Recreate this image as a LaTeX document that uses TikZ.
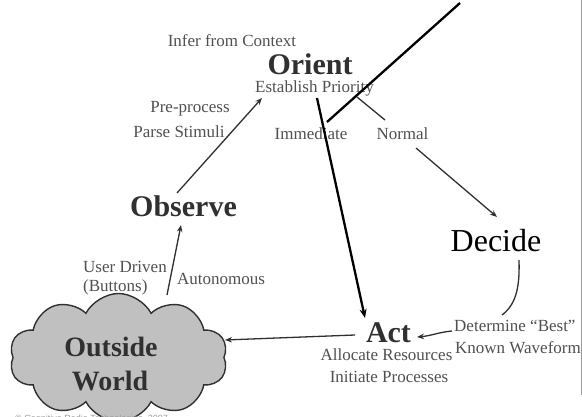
\documentclass[tikz,border=0pt]{standalone}
\usepackage{fontspec}
\setmainfont{Liberation Serif}
\newfontfamily\copyfont{Liberation Sans}
\usetikzlibrary{arrows.meta,shapes.symbols}
\definecolor{lbl}{HTML}{505050}
\definecolor{bigc}{HTML}{303030}
\definecolor{lnc}{HTML}{303030}
\definecolor{cloudfill}{HTML}{C0C0C0}
\tikzset{
  lab/.style={text=lbl,font=\fontsize{17}{20}\selectfont,inner sep=0pt,anchor=base},
  labw/.style={lab,anchor=base west},
  big/.style={text=bigc,font=\fontsize{30}{34}\selectfont\bfseries,inner sep=0pt,anchor=base},
  thinarrow/.style={draw=lnc,line width=1.3pt,-{Stealth[length=7pt,width=5.5pt]}},
  thinline/.style={draw=lnc,line width=1.3pt},
  thickarrow/.style={draw=black,line width=2.3pt,-{Stealth[length=9pt,width=7pt]}},
  thickline/.style={draw=black,line width=2.3pt},
}
\begin{document}
\begin{tikzpicture}[x=1pt,y=-1pt]
\useasboundingbox (0,0) rectangle (582,417);
% right border line
\draw[draw=gray!80,line width=0.8pt] (581,0) -- (581,395);
% cloud
\node[cloud,cloud puffs=10,cloud puff arc=125,cloud ignores aspect,draw=lnc,line width=1.4pt,fill=cloudfill,
      minimum width=218pt,minimum height=128pt,inner sep=0pt] (cloud) at (118.5,357.5) {};
\node[big,font=\fontsize{28}{32}\selectfont\bfseries] (outside) at (111,356) {Outside};
\node[big,font=\fontsize{28}{32}\selectfont\bfseries] (world) at (110,390) {World};
\node[text=gray!80,font=\copyfont\fontsize{9}{10}\selectfont,inner sep=0pt,anchor=base west] (copy) at (15,421) {\textcopyright{} Cognitive Radio Technologies, 2007};
% labels
\node[lab] (infer) at (232,47) {Infer from Context};
\node[big] (orient) at (310,75) {Orient};
\node[lab] (estab) at (314.5,93) {Establish Priority};
\node[lab] (pre) at (190,113) {Pre-process};
\node[lab] (parse) at (179,138) {Parse Stimuli};
\node[lab] (immed) at (311,140) {Immediate};
\node[lab] (normal) at (402.5,140) {Normal};
\node[big] (observe) at (183.5,217) {Observe};
\node[text=black,font=\fontsize{32}{36}\selectfont,inner sep=0pt,anchor=base] (decide) at (496,252) {Decide};
\node[labw] (user) at (83,273) {User Driven};
\node[labw] (buttons) at (83,291) {(Buttons)};
\node[labw] (auto) at (177,285) {Autonomous};
\node[big] (act) at (388.5,342) {Act};
\node[lab] (alloc) at (386.5,360) {Allocate Resources};
\node[lab] (init) at (389,382) {Initiate Processes};
\node[labw] (determ) at (454,332) {Determine “Best”};
\node[labw] (known) at (455,353) {Known Waveform};
% connector end points
\coordinate (obsTop) at (177,193);
\coordinate (oriIn) at (262,98);
\coordinate (cloudTop) at (167,295);
\coordinate (obsIn) at (181,225);
\coordinate (priOut) at (317,98);
\coordinate (actIn) at (365,318);
\coordinate (slashA) at (327,122);
\coordinate (slashB) at (460,3);
\coordinate (priR) at (357,97);
\coordinate (normIn) at (385,120);
\coordinate (normOut) at (416,148);
\coordinate (decIn) at (497,217);
\coordinate (decOut) at (519,260);
\coordinate (detTop) at (502,315);
\coordinate (detL) at (452,331);
\coordinate (actR) at (417,337);
\coordinate (actL) at (355,335);
\coordinate (cloudR) at (225,340);
% connectors
\draw[thinarrow] (obsTop) -- (oriIn);
\draw[thinarrow] (cloudTop) -- (obsIn);
\draw[thickarrow] (priOut) -- (actIn);
\draw[thickline] (slashA) -- (slashB);
\draw[thinline] (priR) -- (normIn);
\draw[thinarrow] (normOut) -- (decIn);
\draw[thinline] (decOut) .. controls (520,290) and (515,305) .. (detTop);
\draw[thinarrow] (detL) .. controls (440,332) and (430,336) .. (actR);
\draw[thinarrow] (actL) -- (cloudR);
\end{tikzpicture}
\end{document}
